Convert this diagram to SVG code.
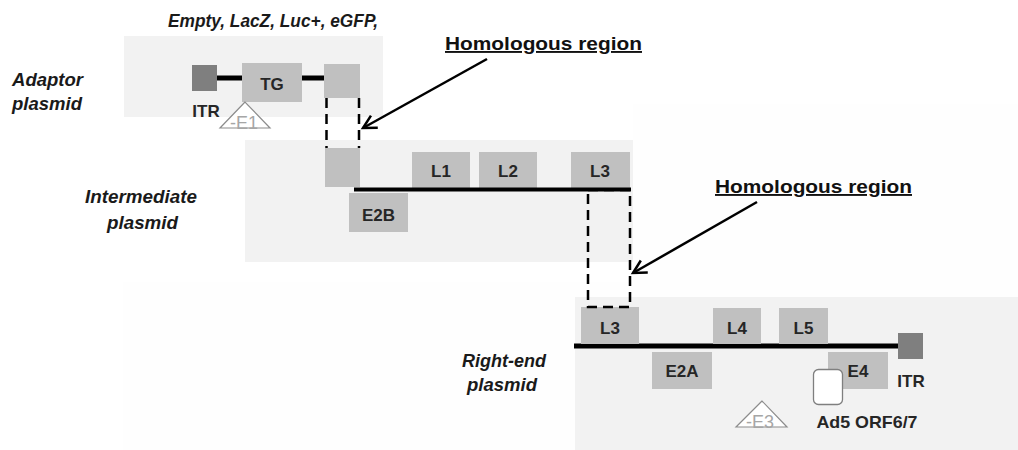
<svg xmlns="http://www.w3.org/2000/svg" width="1018" height="450" viewBox="0 0 1018 450">
<style>
.bg{fill:#f2f2f2}
.faint{fill:#fefefe}
.box{fill:#c0c0c0}
.itr{fill:#7f7f7f}
.bb{stroke:#000;stroke-width:5;fill:none}
.dash{stroke:#000;stroke-width:2.5;fill:none;stroke-dasharray:10,6}
.lbl{font-family:"Liberation Sans",Arial,sans-serif;font-weight:bold;font-size:17px;fill:#262626;text-anchor:middle}
.title{font-family:"Liberation Sans",Arial,sans-serif;font-weight:bold;font-style:italic;font-size:18px;fill:#1a1a1a}
.hom{font-family:"Liberation Sans",Arial,sans-serif;font-weight:bold;font-size:19px;fill:#111;text-decoration:underline}
.tri{fill:#fff;stroke:#8c8c8c;stroke-width:1.2}
.trit{font-family:"Liberation Sans",Arial,sans-serif;font-size:18px;fill:#a6a6a6;text-anchor:middle}
.arr{stroke:#000;stroke-width:2.5;fill:none}
</style>
<defs>
<marker id="ah" markerUnits="userSpaceOnUse" markerWidth="18" markerHeight="18" refX="15" refY="8" orient="auto" viewBox="0 0 18 16">
<path d="M2,1 L15,8 L2,15" fill="none" stroke="#000" stroke-width="2.5"/>
</marker>
</defs>
<rect width="1018" height="450" fill="#fff"/>
<g id="backgrounds">
<rect class="faint" x="633" y="104" width="385" height="180"/>
<rect class="faint" x="123" y="282" width="895" height="168"/>
<rect class="bg" x="124" y="36" width="259" height="81"/>
<rect class="bg" x="245" y="140" width="388" height="122"/>
<rect class="bg" x="575" y="297" width="443" height="153"/>
</g>
<g id="adaptor-plasmid">
<text class="title" x="12" y="86" textLength="71" lengthAdjust="spacingAndGlyphs">Adaptor</text>
<text class="title" x="12" y="110" textLength="70" lengthAdjust="spacingAndGlyphs">plasmid</text>
<text class="title" x="168" y="27" textLength="210" lengthAdjust="spacingAndGlyphs">Empty, LacZ, Luc+, eGFP,</text>
<line class="bb" x1="217" y1="78" x2="324" y2="78"/>
<rect class="itr" x="192" y="65" width="25" height="26"/>
<rect class="box" x="242" y="63" width="60" height="39"/>
<text class="lbl" x="272" y="90">TG</text>
<rect class="box" x="324" y="64" width="36" height="34"/>
<text class="lbl" x="206" y="117">ITR</text>
<polygon class="tri" points="245,102 220,128 270,128"/>
<text class="trit" x="244" y="129">-E1</text>
</g>
<g id="intermediate-plasmid">
<text class="title" x="85" y="203" textLength="112" lengthAdjust="spacingAndGlyphs">Intermediate</text>
<text class="title" x="107" y="229" textLength="71" lengthAdjust="spacingAndGlyphs">plasmid</text>
<rect class="box" x="325" y="148" width="35" height="39"/>
<rect class="box" x="412" y="152" width="58" height="37"/>
<text class="lbl" x="441" y="177">L1</text>
<rect class="box" x="479" y="152" width="58" height="37"/>
<text class="lbl" x="508" y="177">L2</text>
<rect class="box" x="571" y="152" width="59" height="37"/>
<text class="lbl" x="600" y="177">L3</text>
<line x1="354" y1="189.5" x2="631" y2="189.5" stroke="#000" stroke-width="4"/>
<rect class="box" x="349" y="193" width="59" height="39"/>
<text class="lbl" x="378.5" y="221">E2B</text>
</g>
<g id="right-end-plasmid">
<text class="title" x="462" y="367" textLength="84" lengthAdjust="spacingAndGlyphs">Right-end</text>
<text class="title" x="467" y="391" textLength="70" lengthAdjust="spacingAndGlyphs">plasmid</text>
<line class="bb" x1="574" y1="346" x2="900" y2="346"/>
<rect class="box" x="581" y="307" width="58" height="37"/>
<text class="lbl" x="610" y="334">L3</text>
<rect class="box" x="713" y="308" width="48" height="36"/>
<text class="lbl" x="737" y="334">L4</text>
<rect class="box" x="779" y="308" width="49" height="36"/>
<text class="lbl" x="803.5" y="334">L5</text>
<rect class="box" x="652" y="352" width="60" height="37"/>
<text class="lbl" x="682" y="377">E2A</text>
<rect class="box" x="828" y="352" width="60" height="37"/>
<text class="lbl" x="858" y="377">E4</text>
<rect class="itr" x="898" y="333" width="25" height="26"/>
<text class="lbl" x="911" y="387">ITR</text>
<rect x="813.5" y="369.5" width="29" height="35" rx="5" fill="#fff" stroke="#7f7f7f" stroke-width="1.3"/>
<text class="lbl" x="867" y="428" textLength="101" lengthAdjust="spacingAndGlyphs">Ad5 ORF6/7</text>
<polygon class="tri" points="762,401 736,427 787,427"/>
<text class="trit" x="760" y="428">-E3</text>
</g>
<g id="homologous-label-1">
<text class="hom" x="445" y="50" textLength="197" lengthAdjust="spacingAndGlyphs">Homologous region</text>
</g>
<g id="homologous-label-2">
<text class="hom" x="715" y="193" textLength="197" lengthAdjust="spacingAndGlyphs">Homologous region</text>
</g>
<g id="connectors">
<line class="dash" x1="326.5" y1="98" x2="326.5" y2="148"/>
<line class="dash" x1="359" y1="98" x2="359" y2="148"/>
<rect class="dash" x="588" y="190" width="42" height="117"/>
<line class="arr" x1="487" y1="59" x2="363" y2="128" marker-end="url(#ah)"/>
<line class="arr" x1="757" y1="202" x2="633" y2="273" marker-end="url(#ah)"/>
</g>
</svg>
